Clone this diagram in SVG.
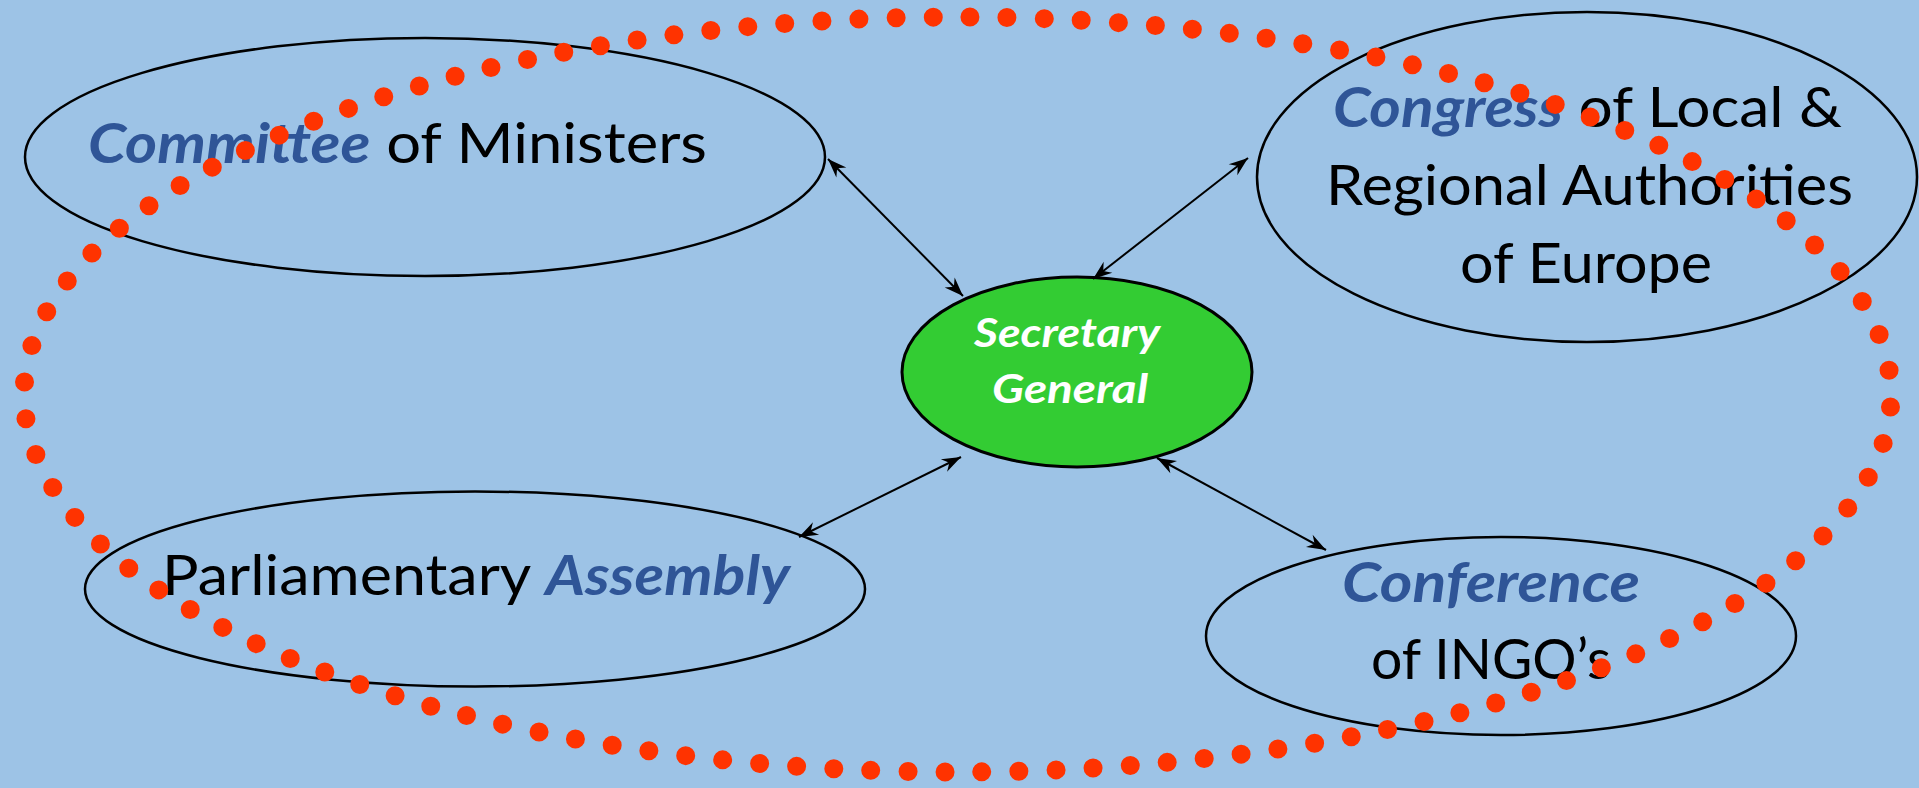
<svg xmlns="http://www.w3.org/2000/svg" width="1919" height="788" viewBox="0 0 1919 788">
<style>
.body{fill:none;stroke:#000;stroke-width:2.5}
.t{font-family:Lato,"Open Sans","Liberation Sans",sans-serif;font-size:56px;fill:#000}
.em{font-weight:bold;font-style:italic;fill:#2F5597}
.sg{font-family:Lato,"Open Sans","Liberation Sans",sans-serif;font-size:41px;font-weight:bold;font-style:italic;fill:#fff}
.conn{stroke:#000;stroke-width:2;fill:none;marker-start:url(#ah);marker-end:url(#ah)}
.ring{fill:none;stroke:#FF3300;stroke-width:19;stroke-linecap:round;stroke-dasharray:0 1}
</style>
<defs>
<marker id="ah" markerUnits="userSpaceOnUse" markerWidth="24" markerHeight="20" viewBox="-20 -10 24 20" refX="0" refY="0" orient="auto-start-reverse">
<path d="M0,0 L-19,-7 L-13,0 L-19,7 Z" fill="#000"/>
</marker>
</defs>
<rect x="0" y="0" width="1919" height="788" fill="#9DC3E6"/>
<g id="committee">
<ellipse class="body" cx="425" cy="157" rx="400" ry="119"/>
<text class="t" x="88" y="163" textLength="619" lengthAdjust="spacingAndGlyphs"><tspan class="em">Committee</tspan> of Ministers</text>
</g>
<g id="congress">
<ellipse class="body" cx="1587" cy="177" rx="330" ry="165"/>
<text class="t" x="1333" y="127" textLength="509" lengthAdjust="spacingAndGlyphs"><tspan class="em">Congress</tspan> of Local &amp;</text>
<text class="t" x="1326" y="205" textLength="527" lengthAdjust="spacingAndGlyphs">Regional Authorities</text>
<text class="t" x="1460" y="283" textLength="252" lengthAdjust="spacingAndGlyphs">of Europe</text>
</g>
<g id="parliament">
<ellipse class="body" cx="475" cy="589" rx="390" ry="97.5"/>
<text class="t" x="162" y="595" textLength="628" lengthAdjust="spacingAndGlyphs">Parliamentary <tspan class="em">Assembly</tspan></text>
</g>
<g id="conference">
<ellipse class="body" cx="1501" cy="636" rx="295" ry="99"/>
<text class="t em" x="1342" y="602" textLength="298" lengthAdjust="spacingAndGlyphs">Conference</text>
<text class="t" x="1371" y="679" textLength="240" lengthAdjust="spacingAndGlyphs">of INGO’s</text>
</g>
<g id="secretary">
<ellipse cx="1077" cy="372" rx="175" ry="95" fill="#33CC33" stroke="#000" stroke-width="3"/>
<text class="sg" x="974" y="347" textLength="186" lengthAdjust="spacingAndGlyphs">Secretary</text>
<text class="sg" x="992" y="403" textLength="156" lengthAdjust="spacingAndGlyphs">General</text>
</g>
<g id="connectors">
<line class="conn" x1="828" y1="159" x2="963" y2="296"/>
<line class="conn" x1="1248" y1="158" x2="1093" y2="279"/>
<line class="conn" x1="799" y1="537" x2="961" y2="457"/>
<line class="conn" x1="1157" y1="458" x2="1326" y2="550"/>
</g>
<g id="boundary">
<ellipse class="ring" cx="957.5" cy="394.5" rx="933.5" ry="377.5" pathLength="116" stroke-dashoffset="-0.34"/>
</g>
</svg>
